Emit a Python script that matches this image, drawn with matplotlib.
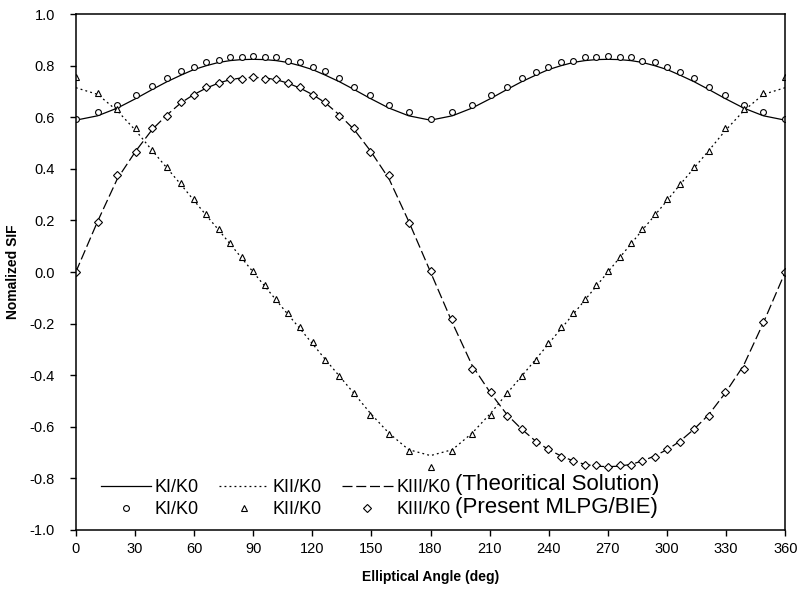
import matplotlib
matplotlib.use("Agg")
import matplotlib.pyplot as plt

plt.rcParams["font.family"] = ["Liberation Sans", "DejaVu Sans"]
plt.rcParams["axes.unicode_minus"] = False

# elliptical angle of the nodes (deg)
angle = [0, 11.1, 21.1, 30.5, 38.8, 46.2, 53.5, 59.8, 66.1, 72.5, 78.3, 84.1, 90,
         95.9, 101.7, 107.5, 113.9, 120.2, 126.5, 133.8, 141.2, 149.5, 158.9, 168.9, 180,
         191.1, 201.1, 210.5, 218.8, 226.2, 233.5, 239.8, 246.1, 252.5, 258.3, 264.1, 270,
         275.9, 281.7, 287.5, 293.9, 300.2, 306.5, 313.8, 321.2, 329.5, 338.9, 348.9, 360]

# theoritical solution
ki_th = [0.589, 0.606, 0.636, 0.673, 0.708, 0.738, 0.764, 0.785, 0.800, 0.813, 0.820, 0.824, 0.825,
         0.824, 0.820, 0.813, 0.800, 0.785, 0.764, 0.738, 0.708, 0.673, 0.636, 0.606, 0.589,
         0.606, 0.636, 0.673, 0.708, 0.738, 0.764, 0.785, 0.800, 0.813, 0.820, 0.824, 0.825,
         0.824, 0.820, 0.813, 0.800, 0.785, 0.764, 0.738, 0.708, 0.673, 0.636, 0.606, 0.589]
kii_th = [0.715, 0.689, 0.625, 0.548, 0.471, 0.404, 0.338, 0.279, 0.221, 0.163, 0.109, 0.055, 0.0,
          -0.055, -0.109, -0.163, -0.221, -0.279, -0.338, -0.404, -0.471, -0.548, -0.625, -0.689, -0.712,
          -0.689, -0.625, -0.548, -0.471, -0.404, -0.338, -0.279, -0.221, -0.163, -0.109, -0.055, 0.0,
          0.055, 0.109, 0.163, 0.221, 0.279, 0.338, 0.404, 0.471, 0.548, 0.625, 0.689, 0.715]
kiii_th = [0.0, 0.197, 0.362, 0.470, 0.553, 0.609, 0.657, 0.688, 0.713, 0.733, 0.746, 0.753, 0.755,
           0.753, 0.746, 0.733, 0.713, 0.688, 0.657, 0.609, 0.553, 0.470, 0.362, 0.197, 0.0,
           -0.197, -0.362, -0.470, -0.553, -0.609, -0.657, -0.688, -0.713, -0.733, -0.746, -0.753, -0.755,
           -0.753, -0.746, -0.733, -0.713, -0.688, -0.657, -0.609, -0.553, -0.470, -0.362, -0.197, 0.0]

# present MLPG/BIE
ki_num = [0.593, 0.620, 0.647, 0.686, 0.720, 0.751, 0.779, 0.795, 0.815, 0.823, 0.833, 0.833, 0.838,
          0.833, 0.833, 0.820, 0.815, 0.796, 0.779, 0.751, 0.718, 0.686, 0.647, 0.620, 0.593,
          0.620, 0.647, 0.686, 0.718, 0.751, 0.777, 0.795, 0.815, 0.820, 0.833, 0.833, 0.837,
          0.833, 0.833, 0.820, 0.815, 0.795, 0.777, 0.751, 0.718, 0.686, 0.647, 0.620, 0.593]
kii_num = [0.757, 0.693, 0.631, 0.557, 0.473, 0.408, 0.344, 0.282, 0.225, 0.168, 0.114, 0.059, 0.005,
           -0.049, -0.103, -0.158, -0.212, -0.270, -0.340, -0.405, -0.470, -0.555, -0.630, -0.693, -0.757,
           -0.693, -0.630, -0.555, -0.470, -0.405, -0.340, -0.274, -0.213, -0.160, -0.105, -0.050, 0.005,
           0.059, 0.114, 0.168, 0.224, 0.282, 0.342, 0.408, 0.470, 0.557, 0.631, 0.693, 0.757]
kiii_num = [0.0, 0.193, 0.376, 0.465, 0.557, 0.607, 0.661, 0.687, 0.716, 0.733, 0.748, 0.748, 0.755,
            0.748, 0.748, 0.733, 0.716, 0.687, 0.661, 0.605, 0.557, 0.464, 0.378, 0.191, 0.005,
            -0.181, -0.376, -0.465, -0.557, -0.607, -0.661, -0.687, -0.716, -0.733, -0.748, -0.748, -0.755,
            -0.748, -0.748, -0.733, -0.716, -0.687, -0.661, -0.607, -0.557, -0.465, -0.376, -0.193, 0.0]

fig = plt.figure(figsize=(7.98, 5.92), dpi=100)
ax = fig.add_axes([0.095, 0.105, 0.889, 0.871])

lw = 0.9
mk = dict(linestyle="none", color="black", markerfacecolor="white",
          markeredgecolor="black", markersize=4.2, markeredgewidth=0.8)

l1, = ax.plot(angle, ki_th, color="black", lw=lw)
l2, = ax.plot(angle, kii_th, color="black", lw=lw, dashes=(1.5, 2.5))
l3, = ax.plot(angle, kiii_th, color="black", lw=lw, dashes=(8, 3))
m1, = ax.plot(angle, ki_num, marker="o", **mk)
m2, = ax.plot(angle, kii_num, marker="^", **mk)
m3, = ax.plot(angle, kiii_num, marker="D", **{**mk, "markersize": 3.6})

ax.set_xlim(0, 360)
ax.set_ylim(-1.0, 1.0)
ax.set_xticks(range(0, 361, 30))
ax.set_yticks([i / 10 for i in range(-10, 11, 2)])
ax.yaxis.set_major_formatter(matplotlib.ticker.FormatStrFormatter("%.1f"))
ax.tick_params(direction="out", length=4, width=1, labelsize=10.5, color="black")
ax.tick_params(axis="x", pad=5)
ax.tick_params(axis="y", pad=11)
for s in ax.spines.values():
    s.set_linewidth(1.1)

ax.set_xlabel("Elliptical Angle (deg)", fontsize=10, fontweight="bold", labelpad=10)
ax.set_ylabel("Nomalized SIF", fontsize=10, fontweight="bold")
ax.yaxis.set_label_coords(-0.078, 0.5)

leg = ax.legend([l1, m1, l2, m2, l3, m3],
                ["KI/K0", "KI/K0", "KII/K0", "KII/K0", "KIII/K0", "KIII/K0"],
                ncol=3, frameon=False, fontsize=13, loc="lower left",
                bbox_to_anchor=(0.035, 0.022), borderpad=0, borderaxespad=0,
                handlelength=2.8, handletextpad=0.2, columnspacing=1.1,
                labelspacing=0.3, numpoints=1)

ax.text(0.535, 0.087, "(Theoritical Solution)", transform=ax.transAxes,
        fontsize=16, va="center", ha="left")
ax.text(0.535, 0.043, "(Present MLPG/BIE)", transform=ax.transAxes,
        fontsize=16, va="center", ha="left")

fig.savefig("out.png", dpi=100)
